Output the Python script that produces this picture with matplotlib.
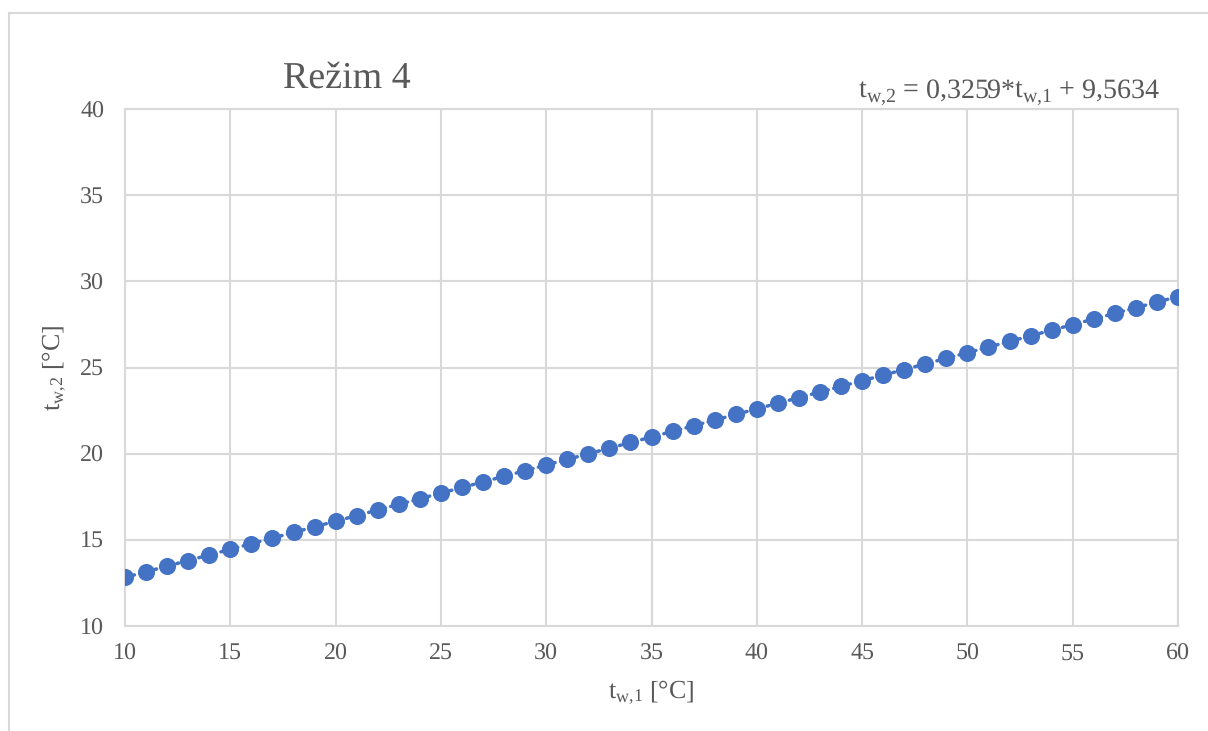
import numpy as np
import matplotlib
matplotlib.use("Agg")
import matplotlib.pyplot as plt
from matplotlib.lines import Line2D

# Data (Režim 4)
tw1 = [10, 11, 12, 13, 14, 15, 16, 17, 18, 19, 20, 21, 22, 23, 24, 25, 26,
       27, 28, 29, 30, 31, 32, 33, 34, 35, 36, 37, 38, 39, 40, 41, 42, 43,
       44, 45, 46, 47, 48, 49, 50, 51, 52, 53, 54, 55, 56, 57, 58, 59, 60]
tw2 = [12.82, 13.15, 13.47, 13.80, 14.13, 14.45, 14.78, 15.10, 15.43, 15.76,
       16.08, 16.41, 16.73, 17.06, 17.39, 17.71, 18.04, 18.36, 18.69, 19.02,
       19.34, 19.67, 19.99, 20.32, 20.65, 20.97, 21.30, 21.62, 21.95, 22.28,
       22.60, 22.93, 23.25, 23.58, 23.90, 24.23, 24.56, 24.88, 25.21, 25.53,
       25.86, 26.19, 26.51, 26.84, 27.16, 27.49, 27.82, 28.14, 28.47, 28.79,
       29.12]
x_ticks = [10, 15, 20, 25, 30, 35, 40, 45, 50, 55, 60]
y_ticks = [10, 15, 20, 25, 30, 35, 40]

BLUE = "#4472C4"
GRID = "#d9d9d9"
TEXT = "#595959"

plt.rcParams["font.family"] = ["Liberation Serif", "DejaVu Serif"]
plt.rcParams["mathtext.fontset"] = "custom"
plt.rcParams["mathtext.rm"] = "Liberation Serif"
plt.rcParams["mathtext.it"] = "Liberation Serif:italic"
plt.rcParams["text.hinting"] = "no_hinting"
plt.rcParams["text.hinting_factor"] = 1

fig = plt.figure(figsize=(12.08, 7.31), dpi=100)
ax = fig.add_axes([0.1035, 0.1436, 0.8717, 0.7073])

# trendline (linear fit), dotted
coef = np.polyfit(tw1, tw2, 1)
xs = np.array([tw1[0], tw1[-1]])
ax.plot(xs, np.polyval(coef, xs), color=BLUE, linewidth=2.5,
        linestyle=(0, (0.6, 1.6)), dash_capstyle="round", zorder=2)
ax.plot(tw1, tw2, "o", color=BLUE, markersize=12.3, markeredgewidth=0,
        zorder=3)

ax.set_xlim(10, 60)
ax.set_ylim(10, 40)
ax.set_xticks(x_ticks)
ax.set_yticks(y_ticks)
ax.grid(True, color=GRID, linewidth=1.5)
ax.set_axisbelow(True)
for sp in ax.spines.values():
    sp.set_color(GRID)
    sp.set_linewidth(1.5)
ax.tick_params(length=0, labelsize=17.5, labelcolor=TEXT)
ax.tick_params(axis="x", pad=12)
ax.tick_params(axis="y", pad=15)

ax.set_xlabel(r"$\mathregular{t_{w{,}1}}$ [°C]", fontsize=18.5, color=TEXT,
              labelpad=10)
ax.set_ylabel(r"$\mathregular{t_{w{,}2}}$ [°C]", fontsize=18.5, color=TEXT,
              labelpad=8)

fig.text(347 / 1208, 1 - 78 / 731, "Režim 4", fontsize=27, color=TEXT,
         ha="center", va="center")
fig.text(1009 / 1208, 1 - 92 / 731,
         r"$\mathregular{t_{w{,}2}}$ = 0,3259*$\mathregular{t_{w{,}1}}$ + 9,5634",
         fontsize=20.5, color=TEXT, ha="center", va="center")

# chart area border (cropped at right / bottom)
fig.add_artist(Line2D([8.5 / 1208, 8.5 / 1208], [0, 1 - 12.5 / 731],
                      color=GRID, linewidth=1.5))
fig.add_artist(Line2D([8.5 / 1208, 1], [1 - 12.5 / 731, 1 - 12.5 / 731],
                      color=GRID, linewidth=1.5))

fig.savefig("out.png", dpi=100)
